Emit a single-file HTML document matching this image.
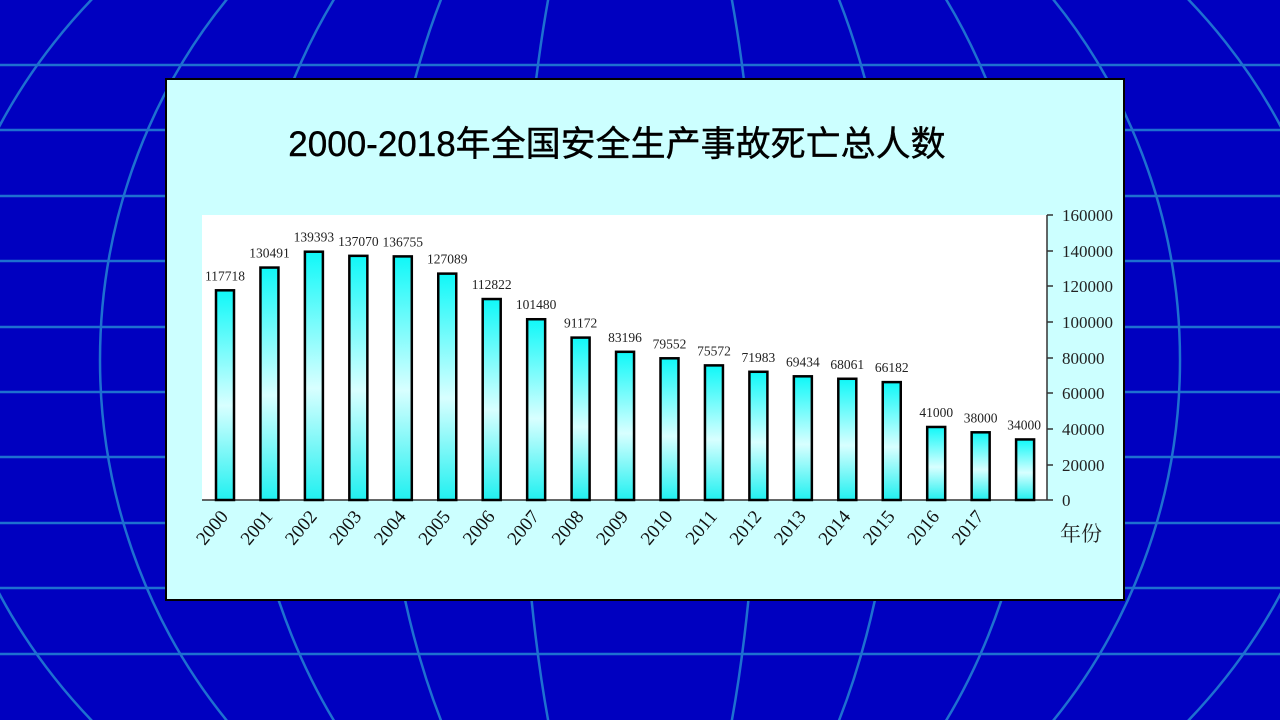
<!DOCTYPE html>
<html><head><meta charset="utf-8"><style>
html,body{margin:0;padding:0;width:1280px;height:720px;overflow:hidden;background:#0000C0}
svg{display:block}
</style></head><body>
<svg width="1280" height="720" viewBox="0 0 1280 720" xmlns="http://www.w3.org/2000/svg" overflow="hidden">
<defs>
<linearGradient id="g" x1="0" y1="0" x2="0" y2="1">
<stop offset="0" stop-color="#10F8F8"/><stop offset="0.55" stop-color="#D8FFFF"/><stop offset="1" stop-color="#20F0F0"/>
</linearGradient>
</defs>
<rect width="1280" height="720" fill="#0000C0"/>
<g stroke="#1E70D0" stroke-width="2.5" fill="none">
<line x1="0" y1="65" x2="1280" y2="65"/><line x1="0" y1="130" x2="1280" y2="130"/>
<line x1="0" y1="196" x2="1280" y2="196"/><line x1="0" y1="261" x2="1280" y2="261"/>
<line x1="0" y1="327" x2="1280" y2="327"/><line x1="0" y1="392" x2="1280" y2="392"/>
<line x1="0" y1="457" x2="1280" y2="457"/><line x1="0" y1="523" x2="1280" y2="523"/>
<line x1="0" y1="588" x2="1280" y2="588"/><line x1="0" y1="654" x2="1280" y2="654"/>
<ellipse cx="640" cy="360" rx="120" ry="560"/>
<ellipse cx="640" cy="360" rx="260" ry="560"/>
<ellipse cx="640" cy="360" rx="400" ry="560"/>
<ellipse cx="640" cy="360" rx="540" ry="560"/>
<ellipse cx="640" cy="360" rx="700" ry="580"/>
<ellipse cx="640" cy="360" rx="880" ry="620"/>
<ellipse cx="640" cy="360" rx="1100" ry="680"/>
</g>
<rect x="166" y="79" width="958" height="521" fill="#CCFFFF" stroke="#000" stroke-width="2"/>
<text x="617" y="156" text-anchor="middle" font-family="Liberation Sans, Noto Sans CJK SC, sans-serif" font-size="35" fill="#000" stroke="#000" stroke-width="0.4">2000-2018年全国安全生产事故死亡总人数</text>
<rect x="202" y="215" width="845" height="285" fill="#fff"/>
<g stroke="#333" stroke-width="1.5">
<line x1="202" y1="500" x2="1047" y2="500"/>
<line x1="1047" y1="215" x2="1047" y2="500"/>
<line x1="1047" y1="215" x2="1053" y2="215"/><line x1="1047" y1="251" x2="1053" y2="251"/>
<line x1="1047" y1="286" x2="1053" y2="286"/><line x1="1047" y1="322" x2="1053" y2="322"/>
<line x1="1047" y1="358" x2="1053" y2="358"/><line x1="1047" y1="393" x2="1053" y2="393"/>
<line x1="1047" y1="429" x2="1053" y2="429"/><line x1="1047" y1="465" x2="1053" y2="465"/>
<line x1="1047" y1="500" x2="1053" y2="500"/>
</g>
<g font-family="Liberation Serif, serif" font-size="17" fill="#222">
<text x="1062" y="221">160000</text><text x="1062" y="257">140000</text><text x="1062" y="292">120000</text>
<text x="1062" y="328">100000</text><text x="1062" y="364">80000</text><text x="1062" y="399">60000</text>
<text x="1062" y="435">40000</text><text x="1062" y="471">20000</text><text x="1062" y="506">0</text>
<text x="1060" y="541" font-family="Liberation Serif, Noto Serif CJK SC, serif" font-size="21">年份</text>
</g>
<g id="bars" stroke="#000" stroke-width="2.5" fill="url(#g)"></g>
<g id="vals" font-family="Liberation Serif, serif" font-size="13.5" fill="#222" text-anchor="middle"></g>
<g id="yrs" font-family="Liberation Serif, serif" font-size="19" fill="#111"></g>
</svg>
<script>
(function(){
var v=[117718,130491,139393,137070,136755,127089,112822,101480,91172,83196,79552,75572,71983,69434,68061,66182,41000,38000,34000];
var b=document.getElementById('bars'),t=document.getElementById('vals'),y=document.getElementById('yrs');
var ns='http://www.w3.org/2000/svg';
for(var i=0;i<v.length;i++){
 var x=216+i*44.45,h=v[i]*285/160000,ty0=500-h;
 var r=document.createElementNS(ns,'rect');r.setAttribute('x',x);r.setAttribute('y',ty0);r.setAttribute('width',18);r.setAttribute('height',h);b.appendChild(r);
 var tx=document.createElementNS(ns,'text');tx.setAttribute('x',i==18?x+8:x+9);tx.setAttribute('y',ty0-10);tx.textContent=v[i];t.appendChild(tx);
 if(i<18){var ty=document.createElementNS(ns,'text');var lx=x+13,ly=517;ty.setAttribute('x',lx);ty.setAttribute('y',ly);ty.setAttribute('text-anchor','end');ty.setAttribute('transform','rotate(-50 '+lx+' '+ly+')');ty.textContent=2000+i;y.appendChild(ty);}
}
})();
</script>
</body></html>
